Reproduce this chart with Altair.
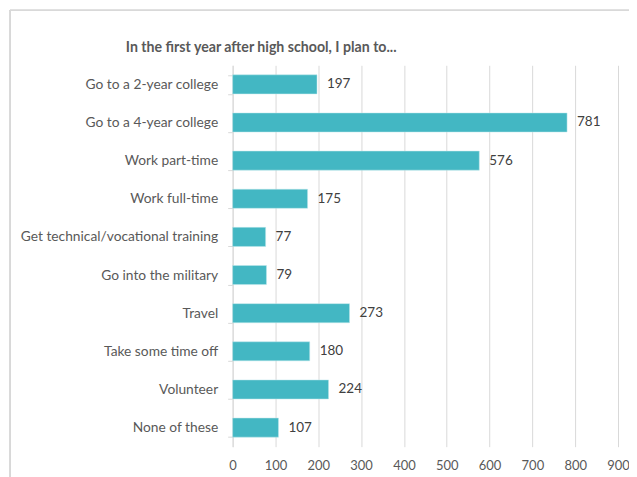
import altair as alt
import pandas as pd

categories = [
    "Go to a 2-year college",
    "Go to a 4-year college",
    "Work part-time",
    "Work full-time",
    "Get technical/vocational training",
    "Go into the military",
    "Travel",
    "Take some time off",
    "Volunteer",
    "None of these",
]
counts = [197, 781, 576, 175, 77, 79, 273, 180, 224, 107]
x_ticks = [0, 100, 200, 300, 400, 500, 600, 700, 800, 900]

df = pd.DataFrame({"plan": categories, "count": counts})

FONT = "Lato"
GREY = "#595959"

y_enc = alt.Y(
    "plan:N",
    sort=categories,
    title=None,
    scale=alt.Scale(paddingInner=0.5, paddingOuter=0.25),
    axis=alt.Axis(
        labelFont=FONT,
        labelFontSize=13.8,
        labelColor=GREY,
        labelPadding=10,
        domainColor="#d9d9d9",
        tickColor="#d9d9d9",
        tickSize=5,
        tickBand="extent",
        labelLimit=300,
    ),
)

x_enc = alt.X(
    "count:Q",
    title=None,
    scale=alt.Scale(domain=[0, 900], nice=False),
    axis=alt.Axis(
        values=x_ticks,
        labelFont=FONT,
        labelFontSize=13,
        labelColor=GREY,
        labelPadding=13,
        labelFlush=False,
        labelOverlap=False,
        domain=False,
        ticks=False,
        grid=True,
        gridColor="#d9d9d9",
        gridWidth=1,
    ),
)

bars = alt.Chart(df).mark_bar(
    color="#43B7C3", stroke="#bfe6ea", strokeWidth=0.5
).encode(y=y_enc, x=x_enc)

labels = alt.Chart(df).mark_text(
    align="left", baseline="middle", dx=10, font=FONT, fontSize=13.5, color="#404040"
).encode(y=alt.Y("plan:N", sort=categories), x="count:Q", text="count:Q")

border_left = alt.Chart(df).mark_rule(color="#d9d9d9", strokeWidth=1).encode(
    x=alt.value(-223), y=alt.value(-55), y2=alt.value(430)
)
border_top = alt.Chart(df).mark_rule(color="#d9d9d9", strokeWidth=1).encode(
    x=alt.value(-223), x2=alt.value(420), y=alt.value(-55)
)

chart = (
    alt.layer(border_left, border_top, bars, labels)
    .properties(
        width=386,
        height=382,
        autosize=alt.AutoSizeParams(type="none"),
        padding={"left": 225, "top": 57, "right": 11, "bottom": 30},
        title=alt.TitleParams(
            "In the first year after high school, I plan to...",
            font=FONT,
            fontSize=14.2,
            fontWeight="bold",
            color=GREY,
            anchor="start",
            frame="group",
            dx=-107,
            offset=-45,
        ),
    )
    .configure_view(stroke=None)
)

chart.save("out.html", embed_options={"renderer": "svg", "actions": False})
